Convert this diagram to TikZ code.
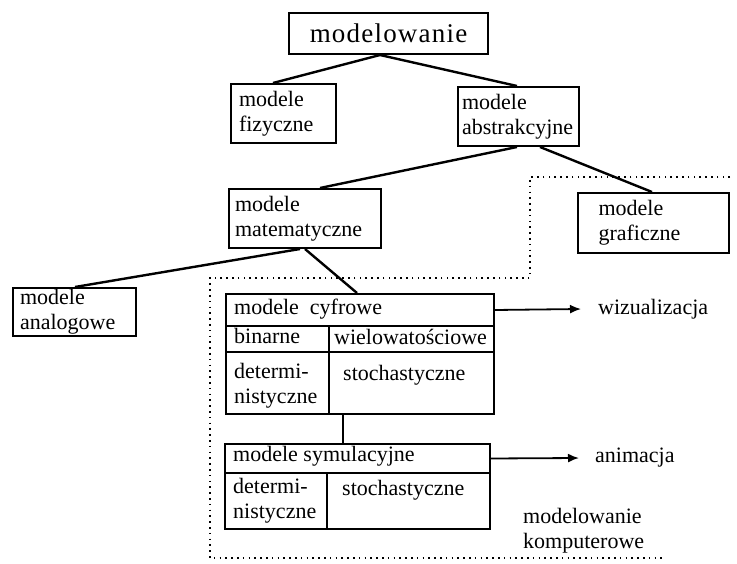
\documentclass[tikz,border=0pt]{standalone}
\usepackage{fontspec}
\setmainfont{Liberation Serif}
\usetikzlibrary{arrows.meta}
\tikzset{
  every picture/.style={x=1pt,y=-1pt},
  box/.style={draw, line width=2pt, anchor=north west, inner ysep=0pt, inner xsep=8pt,
    align=left, font=\fontsize{22}{25}\selectfont},
  cell/.style={draw, line width=2pt, anchor=north west, inner sep=0pt,
    font=\fontsize{22}{25}\selectfont},
  lbl/.style={anchor=west, inner sep=0pt, align=left, font=\fontsize{22}{25}\selectfont},
  conn/.style={line width=2.4pt},
  arr/.style={line width=1.8pt, -{Latex[length=11pt,width=9pt]}},
  border/.style={line width=1.6pt, dash pattern=on 1.6pt off 4.2pt}
}
\newcommand{\lsp}{\kern1.2pt}
\begin{document}
\begin{tikzpicture}
\useasboundingbox (0,0) rectangle (737,564);
% top level
\node[box, minimum width=199pt, minimum height=41pt, text width=183pt, align=center,
  font=\fontsize{27}{30}\selectfont] (root) at (288,12) {m\lsp o\lsp d\lsp e\lsp l\lsp o\lsp w\lsp a\lsp n\lsp i\lsp e};
\node[box, minimum width=105pt, minimum height=59pt, text width=89pt] (fiz) at (230,83) {modele\\fizyczne};
\node[box, minimum width=121pt, minimum height=59pt, text width=113pt, inner xsep=3pt] (abs) at (457,86) {modele\\abstrakcyjne};
\node[box, minimum width=152pt, minimum height=59pt, text width=140pt, inner xsep=6pt] (mat) at (228,188) {modele\\matematyczne};
\node[box, minimum width=151pt, minimum height=60pt, text width=110pt, inner xsep=20pt] (graf) at (577,192) {modele\\graficzne};
\node[box, minimum width=123pt, minimum height=48pt, text width=109pt, inner xsep=7pt] (ana) at (12,287) {modele\\analogowe};

% dotted border
\draw[border] (730,177) -- (530,177) -- (530,278) -- (210,278) -- (210,558) -- (662,558);

% cyfrowe block
\node[cell, minimum width=268pt, minimum height=32pt] (cyf) at (225,293) {};
\node[lbl] (cyft) at (234,309) {modele\ \ cyfrowe};
\node[cell, minimum width=103pt, minimum height=26pt] (bin) at (225,325) {};
\node[lbl] (bint) at (234,336) {binarne};
\node[cell, minimum width=165pt, minimum height=26pt] (wiel) at (328,325) {};
\node[lbl] (wielt) at (334,337) {wielowatościowe};
\node[cell, minimum width=103pt, minimum height=62pt] (det1) at (225,351) {};
\node[lbl, anchor=north west] (det1t) at (234,363) {determi-\\nistyczne};
\node[cell, minimum width=165pt, minimum height=62pt] (sto1) at (328,351) {};
\node[lbl] (sto1t) at (343,375) {stochastyczne};

% symulacyjne block
\node[cell, minimum width=265pt, minimum height=29pt] (sym) at (224,443) {};
\node[lbl] (symt) at (233,456) {modele symulacyjne};
\node[cell, minimum width=102pt, minimum height=56pt] (det2) at (224,472) {};
\node[lbl, anchor=north west] (det2t) at (233,478) {determi-\\nistyczne};
\node[cell, minimum width=163pt, minimum height=56pt] (sto2) at (326,472) {};
\node[lbl] (sto2t) at (342,490) {stochastyczne};

% side labels
\node[lbl] (wiz) at (598,309) {wizualizacja};
\node[lbl] (ani) at (595,458) {animacja};
\node[lbl, anchor=north west] (mk) at (523,508) {modelowanie\\komputerowe};
\coordinate (wizend) at (581,309);
\coordinate (aniend) at (579,458);

% connectors
\draw[conn] (root.south -| 380,0) -- (fiz.north -| 273,0);
\draw[conn] (root.south -| 380,0) -- (abs.north -| 517,0);
\draw[conn] (abs.south -| 517,0) -- (mat.north -| 320,0);
\draw[conn] (abs.south -| 540,0) -- (graf.north -| 652,0);
\draw[conn] (mat.south -| 300,0) -- (ana.north -| 75,0);
\draw[conn] (mat.south -| 305,0) -- (cyf.north -| 357,0);
\draw[conn] (det1.south -| 343,0) -- (sym.north -| 343,0);
\draw[arr] (cyf.east) -- (wizend);
\draw[arr] (sym.east) -- (aniend);
\end{tikzpicture}
\end{document}
